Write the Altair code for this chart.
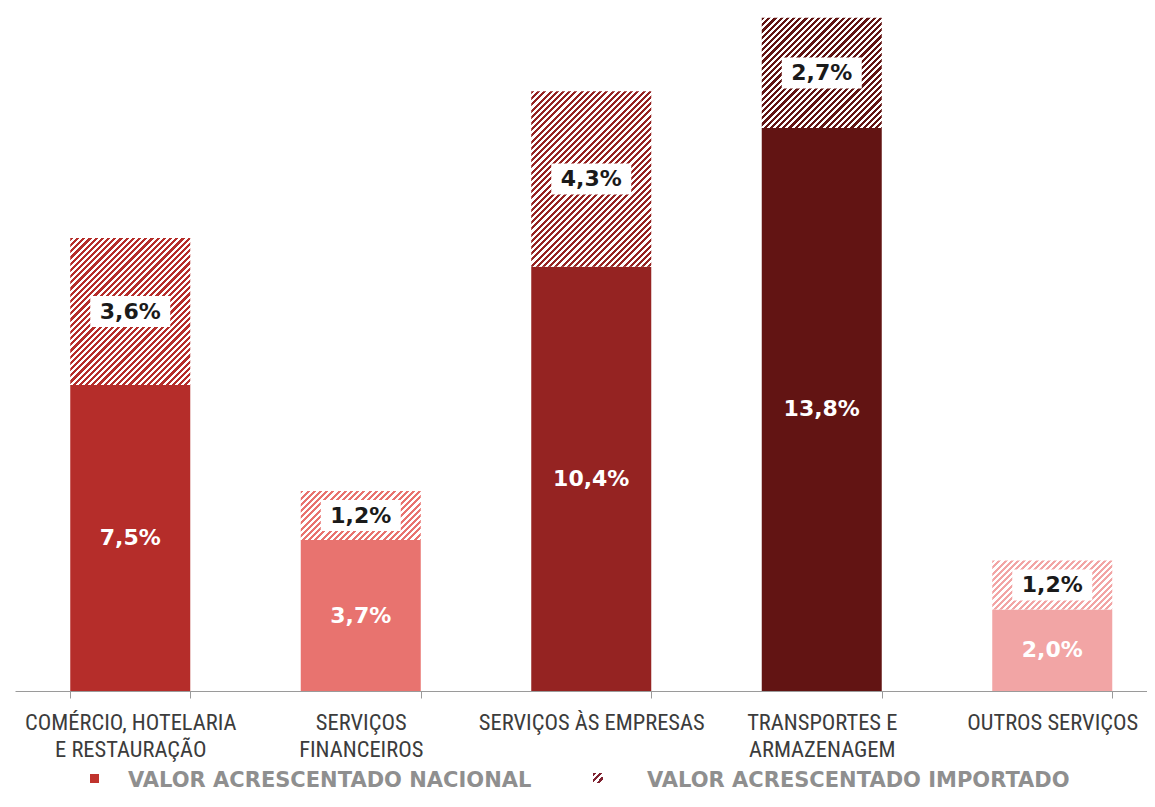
import altair as alt
import pandas as pd

# ---------------- data ----------------
categorias = [
    "COMÉRCIO, HOTELARIA|E RESTAURAÇÃO",
    "SERVIÇOS|FINANCEIROS",
    "SERVIÇOS ÀS EMPRESAS",
    "TRANSPORTES E|ARMAZENAGEM",
    "OUTROS SERVIÇOS",
]
nacional = [7.5, 3.7, 10.4, 13.8, 2.0]
importado = [3.6, 1.2, 4.3, 2.7, 1.2]
cores = ["#B52D2A", "#E8736F", "#952322", "#621413", "#F2A5A5"]
legenda = ["VALOR ACRESCENTADO NACIONAL", "VALOR ACRESCENTADO IMPORTADO"]


def fmt(v):
    return f"{v:.1f}".replace(".", ",") + "%"


df = pd.DataFrame({"cat": categorias, "nac": nacional, "imp": importado})
df["tot"] = df["nac"] + df["imp"]
df["mid_nac"] = df["nac"] / 2
df["mid_imp"] = df["nac"] + df["imp"] / 2
df["lab_nac"] = [fmt(v) for v in nacional]
df["lab_imp"] = [fmt(v) for v in importado]

# ---------------- layout ----------------
PLOT_W = 1132
PLOT_H = 676
PPU = 40.8
YMAX = PLOT_H / PPU
STEP = 230.5
BAR_W = 120
PIN = 1 - BAR_W / STEP


def hatch(color, W, H, period=6.2, duty=0.5):
    q = H / W
    a = (1 + q) / (1 + q * q)
    n = (W + H) / period
    stops = []
    i = 0
    while i < n:
        o0 = i / n
        o1 = min((i + duty) / n, 1.0)
        o2 = min((i + 1) / n, 1.0)
        stops += [(o0, color), (o1, color), (o1, "#ffffff"), (o2, "#ffffff")]
        i += 1
    return alt.LinearGradient(
        gradient="linear", x1=0, y1=0, x2=a, y2=a * q,
        stops=[alt.GradientStop(offset=o, color=c) for o, c in stops],
    )


x_enc = alt.X(
    "cat:N",
    sort=categorias,
    scale=alt.Scale(domain=categorias, range=[0, STEP * 5],
                    paddingInner=PIN, paddingOuter=PIN / 2),
    axis=alt.Axis(
        title=None, labelAngle=0, domainColor="#9a9a9a", tickColor="#9a9a9a",
        tickSize=7, tickBand="extent",
        labelFont="Liberation Sans Narrow, Roboto Condensed, Open Sans, sans-serif",
        labelFontSize=22.5, labelColor="#3c3c3c", labelPadding=13, labelLineHeight=27,
        labelExpr="split(datum.label, '|')", labelLimit=0, labelOverlap=False,
        labelFlush=False, grid=False,
    ),
)
y_scale = alt.Scale(domain=[0, YMAX], nice=False, zero=True)

base = alt.Chart(df)

nac_bars = base.mark_bar().encode(
    x=x_enc,
    y=alt.Y("nac:Q", scale=y_scale, axis=None),
    color=alt.Color("cat:N", scale=alt.Scale(domain=categorias, range=cores), legend=None),
)

imp_layers = []
for i, c in enumerate(categorias):
    imp_layers.append(
        base.transform_filter(alt.datum.cat == c)
        .mark_bar(fill=hatch(cores[i], BAR_W, importado[i] * PPU))
        .encode(x=x_enc, y=alt.Y("nac:Q", scale=y_scale, axis=None), y2="tot:Q")
    )

boxes = base.mark_point(
    shape="M-1,-0.3875H1V0.3875H-1Z", filled=True, fill="white",
    opacity=1, size=6400, strokeWidth=0,
).encode(x=x_enc, y=alt.Y("mid_imp:Q", scale=y_scale, axis=None))

txt_imp = base.mark_text(
    font="DejaVu Sans", fontWeight="bold", fontSize=22, color="#1a1a1a", baseline="middle",
).encode(x=x_enc, y=alt.Y("mid_imp:Q", scale=y_scale, axis=None), text="lab_imp:N")

txt_nac = base.mark_text(
    font="DejaVu Sans", fontWeight="bold", fontSize=22, color="#ffffff", baseline="middle",
).encode(x=x_enc, y=alt.Y("mid_nac:Q", scale=y_scale, axis=None), text="lab_nac:N")

one = alt.InlineData(values=[{"k": 0}])

LEG_BASE = 772
leg_m1 = alt.Chart(one).mark_rect(fill="#C0332D").encode(
    x=alt.value(75), x2=alt.value(84), y=alt.value(LEG_BASE - 13), y2=alt.value(LEG_BASE - 4))
leg_t1 = alt.Chart(one).mark_text(
    text=legenda[0], font="DejaVu Sans", fontWeight="bold", fontSize=21,
    color="#8f8f8f", align="left", baseline="alphabetic",
).encode(x=alt.value(113), y=alt.value(LEG_BASE))
leg_m2 = alt.Chart(one).mark_rect(fill=hatch("#7E2230", 10, 10, period=6.5)).encode(
    x=alt.value(578), x2=alt.value(588), y=alt.value(LEG_BASE - 14), y2=alt.value(LEG_BASE - 4))
leg_t2 = alt.Chart(one).mark_text(
    text=legenda[1], font="DejaVu Sans", fontWeight="bold", fontSize=21,
    color="#8f8f8f", align="left", baseline="alphabetic",
).encode(x=alt.value(632), y=alt.value(LEG_BASE))

chart = alt.layer(
    nac_bars, *imp_layers, boxes, txt_imp, txt_nac, leg_m1, leg_t1, leg_m2, leg_t2
).properties(
    width=PLOT_W, height=PLOT_H,
    autosize=alt.AutoSizeParams(type="none"),
    padding={"left": 7, "top": 7, "right": 0, "bottom": 108},
).configure_view(stroke=None)

chart.save("out.html", embed_options={"renderer": "svg", "actions": False})
